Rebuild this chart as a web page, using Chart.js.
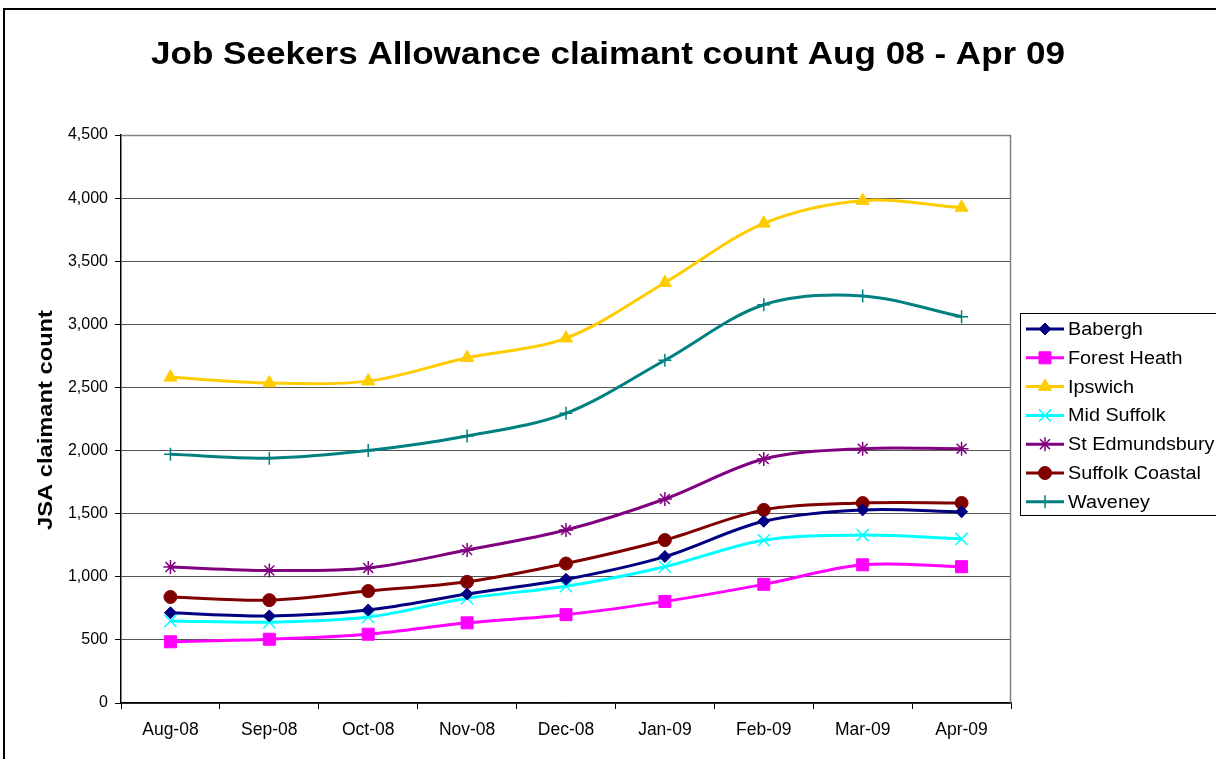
<!DOCTYPE html>
<html>
<head>
<meta charset="utf-8">
<script src="https://cdn.jsdelivr.net/npm/chart.js@4/dist/chart.umd.min.js"></script>
<style>
  html, body { margin: 0; padding: 0; background: #fff; overflow: hidden; }
  #wrap { width: 1216px; height: 759px; position: relative; }
</style>
</head>
<body>
<div id="wrap"><canvas id="c" width="1216" height="759"></canvas></div>
<script>
const months = ['Aug-08','Sep-08','Oct-08','Nov-08','Dec-08','Jan-09','Feb-09','Mar-09','Apr-09'];
const babergh        = [715, 690, 737, 863, 980, 1160, 1440, 1530, 1515];
const forestHeath    = [485, 505, 545, 635, 700, 805, 940, 1095, 1080];
const ipswich        = [2580, 2535, 2550, 2735, 2890, 3330, 3800, 3980, 3925];
const midSuffolk     = [650, 640, 681, 830, 925, 1080, 1290, 1330, 1300];
const stEdmundsbury  = [1077, 1050, 1070, 1212, 1370, 1616, 1933, 2015, 2015];
const suffolkCoastal = [840, 815, 887, 960, 1105, 1291, 1530, 1584, 1585];
const waveney        = [1970, 1940, 2000, 2115, 2295, 2715, 3155, 3225, 3060];
const yTicks = [0, 500, 1000, 1500, 2000, 2500, 3000, 3500, 4000, 4500];

const titleText = 'Job Seekers Allowance claimant count Aug 08 - Apr 09';
const yTitleText = 'JSA claimant count';
const FONT = '"Liberation Sans", Arial, sans-serif';

function ds(label, data, color, style, radius, bw) {
  return {
    label, data,
    borderColor: color, backgroundColor: color,
    pointBackgroundColor: color, pointBorderColor: color,
    pointStyle: style, pointRadius: radius, pointHoverRadius: radius,
    pointBorderWidth: bw,
    borderWidth: 3, tension: 0.33, fill: false
  };
}

const datasets = [
  ds('Babergh', babergh, '#000080', 'rectRot', 6, 1),
  ds('Forest Heath', forestHeath, '#FF00FF', 'rect', 8.5, 1),
  ds('Ipswich', ipswich, '#FFCC00', 'triangle', 7.5, 1),
  ds('Mid Suffolk', midSuffolk, '#00FFFF', 'crossRot', 8.5, 1.5),
  ds('St Edmundsbury', stEdmundsbury, '#800080', 'star', 7, 1.5),
  ds('Suffolk Coastal', suffolkCoastal, '#800000', 'circle', 6.5, 1),
  ds('Waveney', waveney, '#008080', 'cross', 6.5, 1.5)
];

const decor = {
  id: 'decor',
  beforeDraw(chart) {
    const ctx = chart.ctx;
    ctx.save();
    ctx.fillStyle = '#fff';
    ctx.fillRect(0, 0, chart.width, chart.height);
    ctx.restore();
  },
  beforeDatasetsDraw(chart) {
    const ctx = chart.ctx, a = chart.chartArea;
    ctx.save();
    ctx.strokeStyle = '#808080';
    ctx.lineWidth = 1.5;
    ctx.beginPath();
    ctx.moveTo(a.left, a.top + 0.5);
    ctx.lineTo(a.right - 0.5, a.top + 0.5);
    ctx.lineTo(a.right - 0.5, a.bottom);
    ctx.stroke();
    ctx.restore();
  },
  afterDraw(chart) {
    const ctx = chart.ctx, a = chart.chartArea;
    ctx.save();
    // outer frame
    ctx.strokeStyle = '#000';
    ctx.lineWidth = 2;
    ctx.beginPath();
    ctx.moveTo(4, 760);
    ctx.lineTo(4, 9);
    ctx.lineTo(1220, 9);
    ctx.stroke();

    // title
    ctx.fillStyle = '#000';
    ctx.font = 'bold 31px ' + FONT;
    ctx.textBaseline = 'alphabetic';
    ctx.textAlign = 'left';
    let w = ctx.measureText(titleText).width;
    let sx = 914 / w;
    ctx.save();
    ctx.translate(151, 64);
    ctx.scale(sx, 1);
    ctx.fillText(titleText, 0, 0);
    ctx.restore();

    // y axis title
    ctx.font = 'bold 21px ' + FONT;
    w = ctx.measureText(yTitleText).width;
    sx = 220 / w;
    ctx.save();
    ctx.translate(52, 530);
    ctx.rotate(-Math.PI / 2);
    ctx.scale(sx, 1);
    ctx.fillText(yTitleText, 0, 0);
    ctx.restore();

    // legend
    ctx.strokeStyle = '#000';
    ctx.lineWidth = 1;
    ctx.strokeRect(1020.5, 313.5, 260, 202);
    ctx.font = '18px ' + FONT;
    ctx.textBaseline = 'middle';
    chart.data.datasets.forEach((d, i) => {
      const y = 329 + i * 28.8;
      ctx.strokeStyle = d.borderColor;
      ctx.lineWidth = 3;
      ctx.beginPath();
      ctx.moveTo(1026, y);
      ctx.lineTo(1064, y);
      ctx.stroke();
      ctx.fillStyle = d.pointBackgroundColor;
      ctx.strokeStyle = d.pointBorderColor;
      ctx.lineWidth = d.pointBorderWidth;
      Chart.helpers.drawPoint(ctx, {
        pointStyle: d.pointStyle, radius: d.pointRadius, rotation: 0,
        borderWidth: d.pointBorderWidth
      }, 1045, y);
      ctx.fillStyle = '#000';
      ctx.save();
      ctx.translate(1068, y + 1);
      ctx.scale(1.1, 1);
      ctx.fillText(d.label, 0, 0);
      ctx.restore();
    });
    ctx.restore();
  }
};

new Chart(document.getElementById('c'), {
  type: 'line',
  data: { labels: months, datasets },
  plugins: [decor],
  options: {
    responsive: false,
    animation: false,
    events: [],
    layout: { padding: { top: 135, left: 0, right: 205, bottom: 0 } },
    plugins: { legend: { display: false }, title: { display: false }, tooltip: { enabled: false } },
    scales: {
      x: {
        type: 'category',
        offset: true,
        grid: { offset: true, drawOnChartArea: false, drawTicks: true, tickLength: 6, tickColor: '#000', lineWidth: 1 },
        border: { color: '#000', width: 1.5 },
        ticks: { color: '#000', font: { family: FONT, size: 17.5 }, padding: 11, maxRotation: 0, autoSkip: false },
        afterFit(s) { s.height = 56; }
      },
      y: {
        min: 0, max: 4500,
        afterBuildTicks(s) { s.ticks = yTicks.map(v => ({ value: v })); },
        grid: { color: '#555', lineWidth: 1, tickLength: 6, tickColor: '#000' },
        border: { color: '#000', width: 1.5 },
        ticks: {
          color: '#000', font: { family: FONT, size: 16 }, padding: 7,
          callback: v => v.toLocaleString('en-US')
        },
        afterFit(s) { s.width = 121; }
      }
    }
  }
});
</script>
</body>
</html>
